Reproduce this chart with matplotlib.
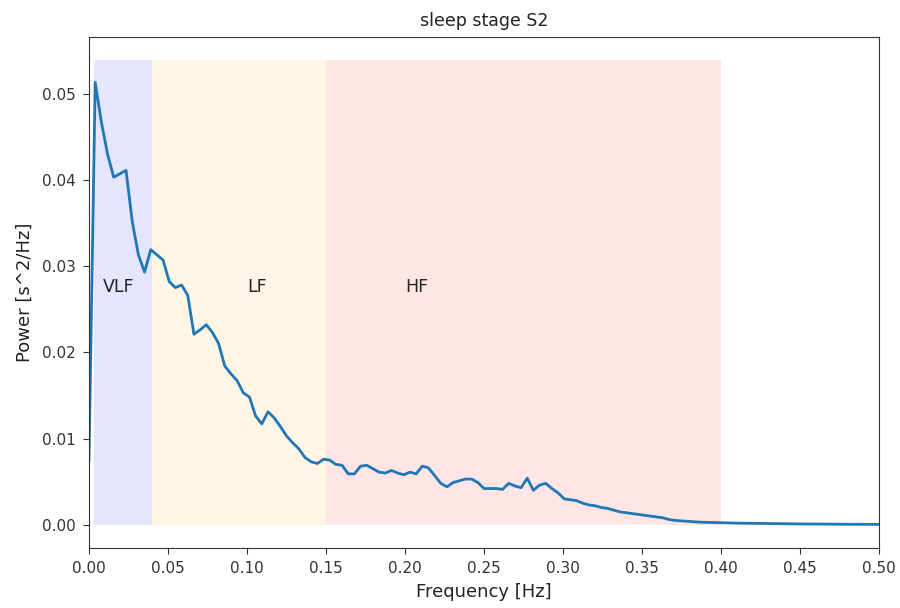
import numpy as np
import matplotlib
matplotlib.use("Agg")
import matplotlib.pyplot as plt

# Power spectral density (s^2/Hz) at frequency bins 0 .. 0.5 Hz (129 bins)
psd = [
    0.0075, 0.0513, 0.0467, 0.0430, 0.0403, 0.0407, 0.0411, 0.0352, 0.0313, 0.0293,
    0.0319, 0.0313, 0.0307, 0.0282, 0.0275, 0.0278, 0.0266, 0.0221, 0.0226, 0.0232,
    0.0223, 0.0210, 0.0184, 0.0175, 0.0167, 0.0153, 0.0148, 0.0126, 0.0117, 0.0131,
    0.0124, 0.0114, 0.0103, 0.0095, 0.0088, 0.0078, 0.0073, 0.0071, 0.0076, 0.0075,
    0.0070, 0.0069, 0.0059, 0.0059, 0.0068, 0.0069, 0.0065, 0.0061, 0.0060, 0.0063,
    0.0060, 0.0058, 0.0061, 0.0059, 0.0068, 0.0066, 0.0057, 0.0048, 0.0044, 0.0049,
    0.0051, 0.0053, 0.0053, 0.0049, 0.0042, 0.0042, 0.0042, 0.0041, 0.0048, 0.0045,
    0.0043, 0.0054, 0.0040, 0.0046, 0.0048, 0.0042, 0.0037, 0.0030, 0.0029, 0.0028,
    0.0025, 0.0023, 0.0022, 0.0020, 0.0019, 0.0017, 0.0015, 0.0014, 0.0013, 0.0012,
    0.0011, 0.0010, 0.0009, 0.0008, 0.0006, 0.0005, 0.00045, 0.0004, 0.00035, 0.0003,
    0.00028, 0.00025, 0.00023, 0.00021, 0.0002, 0.00019, 0.00018, 0.00017, 0.00016, 0.00015,
    0.00014, 0.00013, 0.00012, 0.00011, 0.0001, 0.0001, 0.00009, 0.00009, 0.00008, 0.00008,
    0.00007, 0.00007, 0.00006, 0.00006, 0.00005, 0.00005, 0.00005, 0.00004, 0.00004,
]
freq = np.linspace(0, 0.5, len(psd))

band_names = ["VLF", "LF", "HF"]
band_lo = [0.003, 0.04, 0.15]
band_hi = [0.04, 0.15, 0.40]
band_colors = ["blue", "orange", "red"]
label_x = [0.009, 0.10, 0.20]
label_y = 0.027

fig = plt.figure(figsize=(9, 6.08), dpi=100)
ax = fig.add_axes([0.0989, 0.0987, 0.8778, 0.8404])

top = max(psd) * 1.05
for lo, hi, c in zip(band_lo, band_hi, band_colors):
    ax.fill_between([lo, hi], [0, 0], [top, top], color=c, alpha=0.1, linewidth=0)

ax.plot(freq, psd, color="C0", linewidth=2)

for name, x in zip(band_names, label_x):
    ax.text(x, label_y, name, fontsize=12.5, color="#222222")

ax.set_xlim(0, 0.5)
ax.set_xticks(np.arange(0, 0.501, 0.05))
ax.tick_params(labelsize=11, length=4.5, pad=5, colors="#333333")
ax.set_xlabel("Frequency [Hz]", fontsize=13, color="#222222", labelpad=5)
ax.set_ylabel("Power [s^2/Hz]", fontsize=13, color="#222222", labelpad=6)
ax.set_title("sleep stage S2", fontsize=12.5, color="#222222", pad=8)
for s in ax.spines.values():
    s.set_color("#333333")

fig.savefig("out.png", dpi=100)
